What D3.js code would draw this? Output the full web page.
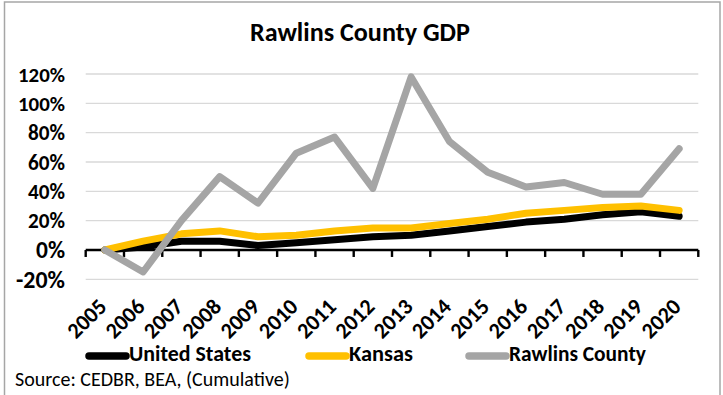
<!DOCTYPE html>
<html><head><meta charset="utf-8">
<script src="https://cdn.jsdelivr.net/npm/d3@7"></script>
<style>
html,body{margin:0;padding:0;background:#fff;}
svg{display:block;font-family:Carlito,Calibri,Lato,"Open Sans",sans-serif;}
</style></head>
<body><svg id="c" width="723" height="395"></svg>
<script>
const years = ["2005","2006","2007","2008","2009","2010","2011","2012","2013","2014","2015","2016","2017","2018","2019","2020"];
const unitedStates = [0, 2, 6, 6, 3, 5, 7, 9, 10, 13, 16, 19, 21, 24, 26, 23];
const kansas = [0, 6, 11, 13, 9, 10, 13, 15, 15, 18, 21, 25, 27, 29, 30, 27];
const rawlins = [0, -15, 20, 50, 32, 66, 77, 42, 118, 74, 53, 43, 46, 38, 38, 69];
const yTicks = [-20, 0, 20, 40, 60, 80, 100, 120];
const seriesNames = ["United States", "Kansas", "Rawlins County"];
const seriesColors = ["#000000", "#FFC000", "#A5A5A5"];

const svg = d3.select("#c");
// outer frame
svg.append("rect").attr("x",4.5).attr("y",2).attr("width",715.5).attr("height",400)
  .attr("fill","#fff").attr("stroke","#a6a6a6").attr("stroke-width",1.5);

const x = d3.scaleBand().domain(years).range([85.7, 698.3]);
const y = d3.scaleLinear().domain([-20, 120]).range([279.3, 74]);

function fit(sel, w){
  const n = sel.node(); const fs = parseFloat(sel.attr("font-size"));
  const l = n.getComputedTextLength(); if(l>0) sel.attr("font-size", fs*w/l);
  return sel;
}

// title
fit(svg.append("text").attr("x",360).attr("y",41).attr("text-anchor","middle")
  .attr("font-weight","bold").attr("font-size",20).attr("fill","#000").text("Rawlins County GDP"), 220);

// gridlines
svg.append("g").selectAll("line").data(yTicks.filter(d=>d!==0)).join("line")
  .attr("x1",85.7).attr("x2",698.3).attr("y1",d=>y(d)).attr("y2",d=>y(d))
  .attr("stroke","#d9d9d9").attr("stroke-width",1.3);

// y labels
const yAxis = d3.axisLeft(y).tickValues(yTicks).tickFormat(d=>d+"%").tickSize(0).tickPadding(0);
const ya = svg.append("g").attr("transform","translate(65,0)").call(yAxis);
ya.select(".domain").remove();
ya.selectAll("text").attr("font-size",18).attr("font-weight","bold").attr("fill","#000")
  .attr("font-family","Carlito,Calibri,Lato,sans-serif").attr("dy","0.34em");
ya.selectAll("text").each(function(d){ const s=d3.select(this); const l=this.getComputedTextLength(); const tw = (d===120||d===100)?47:(d<0?49:(d===0?29:37)); if(l>0) s.attr("font-size",18*tw/l); });

// x axis at zero
const xAxis = d3.axisBottom(x).tickSize(0).tickFormat("");
const xa = svg.append("g").attr("transform",`translate(0,${y(0)})`).call(xAxis);
xa.select(".domain").remove();
svg.append("line").attr("x1",85.7).attr("x2",698.3).attr("y1",y(0)).attr("y2",y(0))
  .attr("stroke","#000").attr("stroke-width",2.6);
const bounds = years.map(d=>x(d)).concat([x.range()[1]]);
svg.append("g").selectAll("line").data(bounds).join("line")
  .attr("x1",d=>d).attr("x2",d=>d).attr("y1",y(0)).attr("y2",y(0)+7)
  .attr("stroke","#000").attr("stroke-width",2.4);

// x labels
svg.append("g").selectAll("text").data(years).join("text")
  .attr("transform",d=>`translate(${x(d)+x.bandwidth()/2+3},${308}) rotate(-45)`)
  .attr("text-anchor","end").attr("font-weight","bold").attr("font-size",18).attr("fill","#000")
  .text(d=>d).each(function(){ const l=this.getComputedTextLength(); if(l>0) d3.select(this).attr("font-size",18*45/l); });

// lines
const line = d3.line().x((d,i)=>x(years[i])+x.bandwidth()/2).y(d=>y(d));
const data = [unitedStates, kansas, rawlins];
svg.append("g").selectAll("path").data(data).join("path")
  .attr("d",line).attr("fill","none").attr("stroke",(d,i)=>seriesColors[i])
  .attr("stroke-width",7).attr("stroke-linejoin","round").attr("stroke-linecap","round");

// legend
const legX = [89, 309, 469];
const legW = [122, 64, 137];
const lg = svg.append("g").selectAll("g").data(seriesNames).join("g");
lg.append("line").attr("x1",(d,i)=>legX[i]).attr("x2",(d,i)=>legX[i]+37).attr("y1",356)
  .attr("y2",356)
  .attr("stroke",(d,i)=>seriesColors[i]).attr("stroke-width",7.5).attr("stroke-linecap","round");
lg.append("text").attr("x",(d,i)=>legX[i]+40).attr("y",361).attr("font-weight","bold")
  .attr("font-size",18).attr("fill","#000").text(d=>d)
  .each(function(d,i){ const l=this.getComputedTextLength(); if(l>0) d3.select(this).attr("font-size",18*legW[i]/l); });

// source
fit(svg.append("text").attr("x",15).attr("y",385.5).attr("font-size",17).attr("fill","#000")
  .text("Source: CEDBR, BEA, (Cumulative)"), 275);
</script></body></html>
